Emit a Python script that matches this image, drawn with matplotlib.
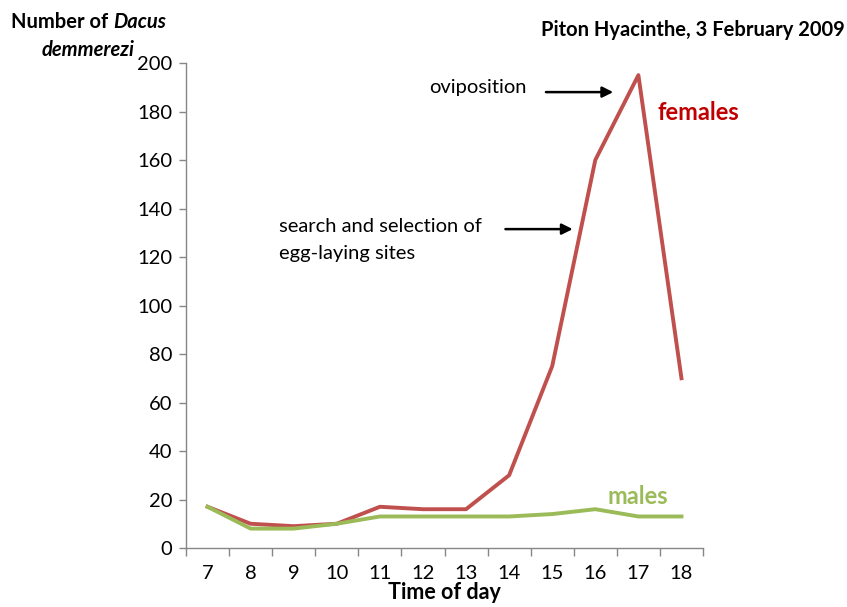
import numpy as np
import matplotlib.pyplot as plt

plt.rcParams['font.family'] = ['Lato', 'DejaVu Sans']

# data
hours = ['7', '8', '9', '10', '11', '12', '13', '14', '15', '16', '17', '18']
females = [17, 10, 9, 10, 17, 16, 16, 30, 75, 160, 195, 70]
males = [17, 8, 8, 10, 13, 13, 13, 13, 14, 16, 13, 13]

red_line = '#C0504D'
green_line = '#9BBB59'
axis_grey = '#868686'

fig = plt.figure(figsize=(8.47, 6.07), dpi=100)
ax = fig.add_axes([0.2196, 0.0972, 0.6104, 0.7990])

x = np.arange(len(hours))
ax.plot(x, females, color=red_line, lw=2.8, solid_joinstyle='round')
ax.plot(x, males, color=green_line, lw=2.8, solid_joinstyle='round')

# category axis: ticks between categories, labels in the middle
ax.set_xlim(-0.5, len(hours) - 0.5)
ax.set_xticks(np.arange(len(hours) + 1) - 0.5)
ax.set_xticklabels([])
ax.set_xticks(x, minor=True)
ax.set_xticklabels(hours, minor=True)
ax.tick_params(axis='x', which='major', length=6, width=1, color=axis_grey, direction='out')
ax.tick_params(axis='x', which='minor', length=0, labelsize=14.5, pad=12)

ax.set_ylim(0, 200)
ax.set_yticks(range(0, 201, 20))
ax.tick_params(axis='y', length=5, width=1, color=axis_grey, labelsize=14.5, pad=5)

for side in ['top', 'right']:
    ax.spines[side].set_visible(False)
for side in ['left', 'bottom']:
    ax.spines[side].set_color(axis_grey)
    ax.spines[side].set_linewidth(1)

ax.set_xlabel('Time of day', fontsize=15.5, fontweight='bold', labelpad=0)

# y label in two lines at the top left
fig.text(113 / 847, 1 - 22 / 607, 'Number of ', ha='right', va='center',
         fontsize=14.5, fontweight='bold')
fig.text(113 / 847, 1 - 22 / 607, 'Dacus', ha='left', va='center',
         fontsize=14.5, fontweight='bold', style='italic')
fig.text(88 / 847, 1 - 50 / 607, 'demmerezi', ha='center', va='center',
         fontsize=14.5, fontweight='bold', style='italic')

fig.text(845 / 847, 1 - 30 / 607, 'Piton Hyacinthe, 3 February 2009', ha='right',
         va='center', fontsize=14.5, fontweight='bold')

# annotations
ax.annotate('', xy=(9.48, 188), xytext=(7.79, 188),
            arrowprops=dict(arrowstyle='-|>', color='black', lw=1.8, mutation_scale=16))
ax.text(7.41, 190, 'oviposition', ha='right', va='center', fontsize=14.5)

ax.annotate('', xy=(8.54, 131.5), xytext=(6.85, 131.5),
            arrowprops=dict(arrowstyle='-|>', color='black', lw=1.8, mutation_scale=16))
ax.text(1.67, 132.4, 'search and selection of', ha='left', va='center', fontsize=14.5)
ax.text(1.67, 121.6, 'egg-laying sites', ha='left', va='center', fontsize=14.5)

ax.text(10.45, 179.4, 'females', color='#C00000', fontsize=17, fontweight='bold',
        ha='left', va='center')
ax.text(9.98, 21.4, 'males', color=green_line, fontsize=17, fontweight='bold',
        ha='center', va='center')

fig.savefig('out.png', dpi=100)
